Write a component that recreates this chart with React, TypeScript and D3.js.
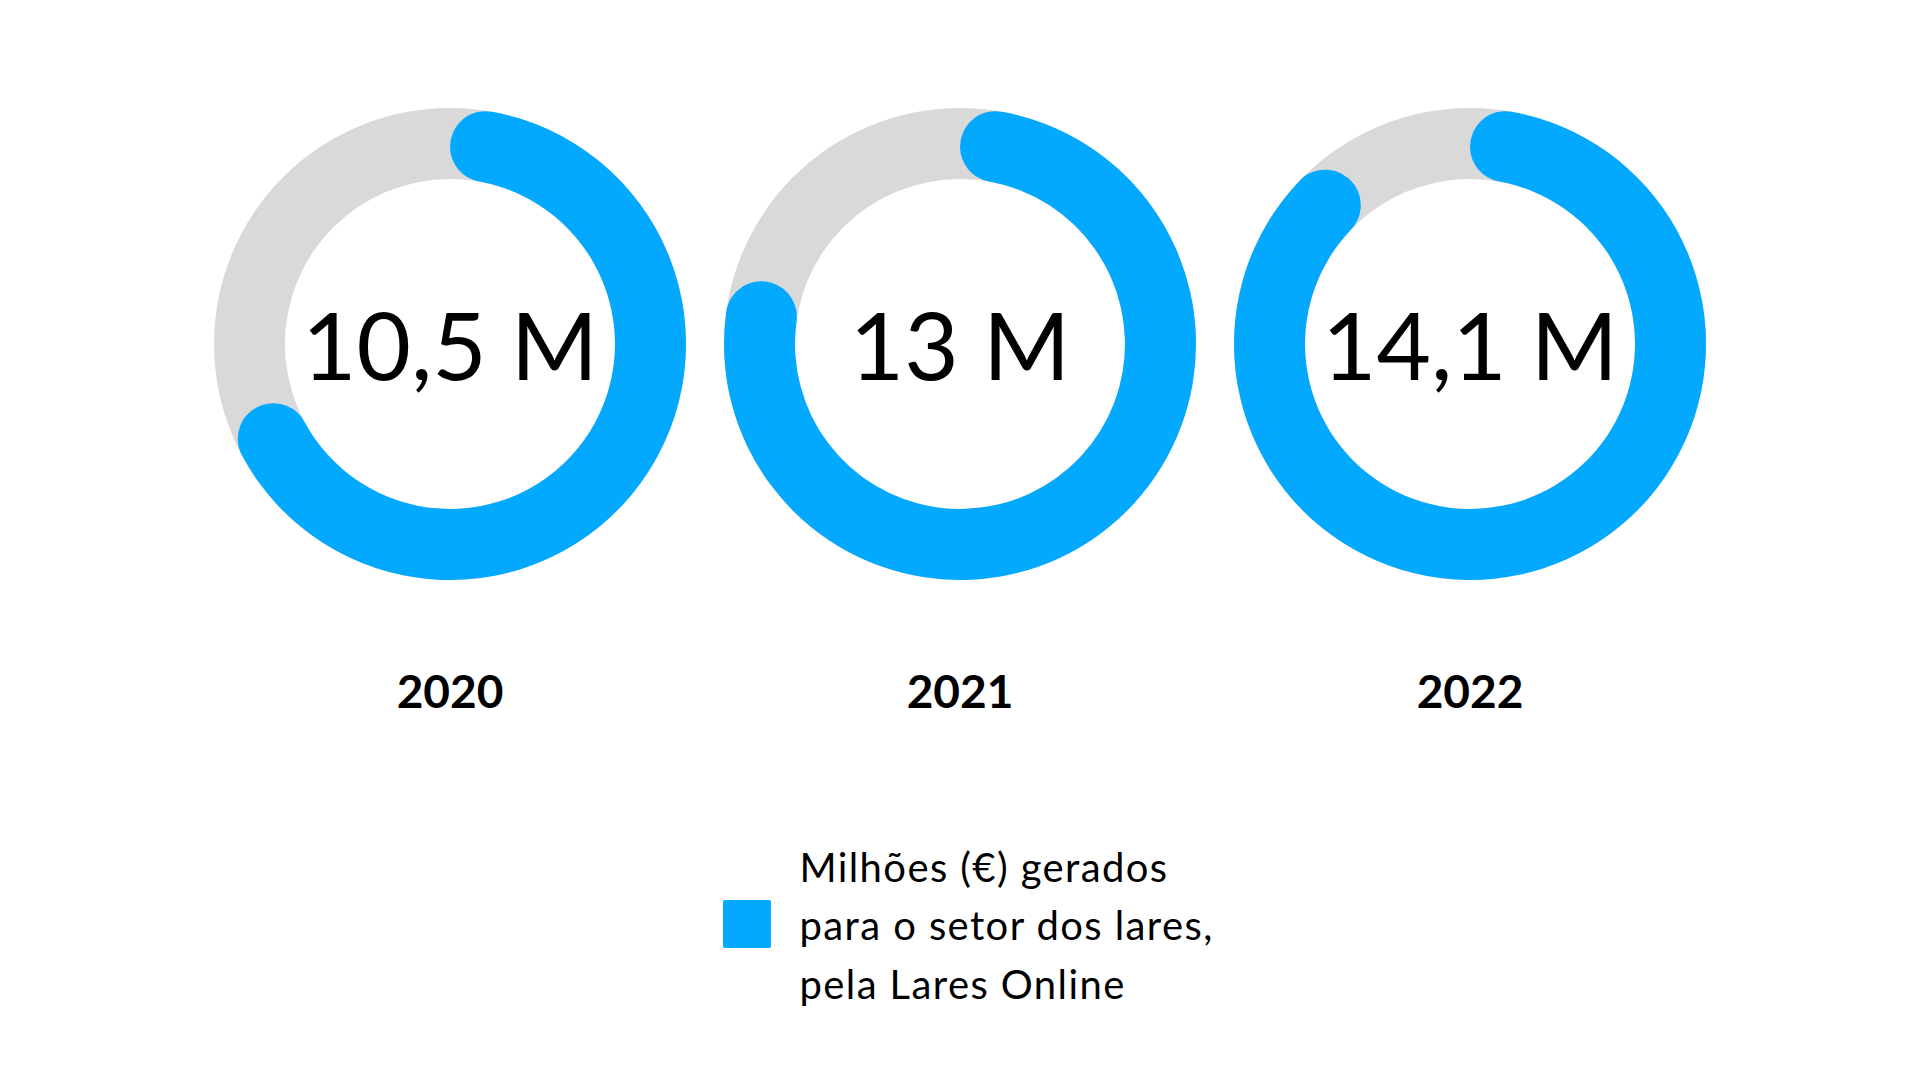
import React from "react";
import * as d3 from "d3";

const years = ["2020", "2021", "2022"];
const values = [10.5, 13, 14.1];
const valueLabels = ["10,5 M", "13 M", "14,1 M"];
const ringShare = [0.7, 0.8, 0.9];
const legendLines = [
  "Milhões (€) gerados",
  "para o setor dos lares,",
  "pela Lares Online",
];

const BLUE = "#03A9FE";
const GRAY = "#D9D9D9";

export default function App() {
  const W = 1920;
  const H = 1080;
  const cy = 344;
  const outerR = 236;
  const innerR = 165;
  const x = d3.scalePoint<string>().domain(years).range([450, 1470]);
  const angle = d3.scaleLinear().domain([0, 1]).range([0, 2 * Math.PI]);

  const bgArc = d3
    .arc<any>()
    .innerRadius(innerR)
    .outerRadius(outerR)
    .startAngle(0)
    .endAngle(2 * Math.PI);
  const valArc = d3
    .arc<any>()
    .innerRadius(innerR)
    .outerRadius(outerR)
    .cornerRadius((outerR - innerR) / 2);

  return (
    <svg
      width={W}
      height={H}
      style={{ position: "absolute", left: 0, top: 0, background: "#fff" }}
      fontFamily="Lato, 'Noto Sans', sans-serif"
    >
      {years.map((y, i) => {
        const cx = x(y) as number;
        return (
          <g key={y} transform={`translate(${cx},${cy})`}>
            <path d={bgArc({}) as string} fill={GRAY} />
            <path
              d={
                valArc({
                  startAngle: 0,
                  endAngle: angle(ringShare[i]),
                }) as string
              }
              fill={BLUE}
            />
            <text
              x={0}
              y={36}
              textAnchor="middle"
              fontSize={94}
              fill="#000"
              data-value={values[i]}
            >
              {valueLabels[i]}
            </text>
            <text
              x={0}
              y={708 - cy}
              textAnchor="middle"
              fontSize={46}
              fontWeight={700}
              fill="#000"
            >
              {y}
            </text>
          </g>
        );
      })}
      <rect x={723} y={900} width={48} height={48} rx={2} fill={BLUE} />
      {legendLines.map((t, i) => (
        <text
          key={i}
          x={799.5}
          y={881.7 + i * 58.5}
          fontSize={40}
          letterSpacing={1.4}
          fill="#000"
        >
          {t}
        </text>
      ))}
    </svg>
  );
}
